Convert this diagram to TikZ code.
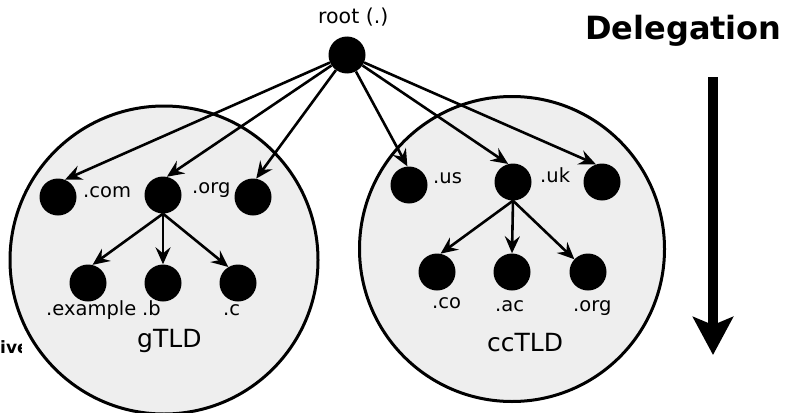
\documentclass[tikz,border=0pt]{standalone}
\usepackage{fontspec}
\setmainfont{DejaVu Sans}
\usetikzlibrary{arrows.meta}
\begin{document}
\begin{tikzpicture}[x=1pt,y=-1pt,
  dot/.style={circle,fill=black,minimum size=37pt,inner sep=0pt},
  zone/.style={circle,draw=black,line width=3pt,fill=zonegray,minimum size=308pt,inner sep=0pt},
  arr/.style={line width=2.6pt,-{Stealth[length=17pt,width=15pt,inset=6pt]}},
  lbl/.style={anchor=base west,inner sep=0pt,font=\fontsize{19.5}{21}\selectfont},
  big/.style={anchor=base west,inner sep=0pt,font=\fontsize{25}{27}\selectfont}]
\definecolor{zonegray}{HTML}{EEEEEE}
\useasboundingbox (0,0) rectangle (786,412);
% clipped text fragment at the left
\begin{scope}
  \clip (0,330) rectangle (21,362);
  \node[anchor=base west,inner sep=0pt,font=\bfseries\fontsize{17}{19}\selectfont] (frag) at (0,353) {ive};
\end{scope}
% zones
\node[zone] (gz) at (164,260) {};
\node[zone,minimum size=305pt] (cz) at (512,249) {};
% dots
\node[dot] (root) at (347,55) {};
\node[dot] (com) at (58,197) {};
\node[dot] (gmid) at (163,195) {};
\node[dot] (gorg) at (253,197) {};
\node[dot] (ex) at (88,283) {};
\node[dot] (b) at (163,283) {};
\node[dot] (c) at (238,283) {};
\node[dot] (us) at (409,185) {};
\node[dot] (uk) at (513,182) {};
\node[dot] (ukr) at (602,182) {};
\node[dot] (co) at (437,272) {};
\node[dot] (ac) at (512,272) {};
\node[dot] (org) at (588,272) {};
% connectors
\draw[arr] (root) -- (com.68);
\draw[arr] (root) -- (gmid.78);
\draw[arr] (root) -- (gorg.80);
\draw[arr] (root) -- (us.95);
\draw[arr] (root) -- (uk.105);
\draw[arr] (root) -- (ukr.109);
\draw[arr] (gmid.south) -- (ex.76);
\draw[arr] (gmid.south) -- (b.north);
\draw[arr] (gmid.south) -- (c.121);
\draw[arr] (uk.south) -- (co.79);
\draw[arr] (uk.south) -- (ac.north);
\draw[arr] (uk.south) -- (org.137);
% labels
\node[anchor=base west,inner sep=0pt,font=\fontsize{20.5}{22}\selectfont] (lroot) at (318,24) {root (.)};
\node[lbl] (lcom) at (83,197) {.com};
\node[lbl] (lgorg) at (192,193) {.org};
\node[lbl] (lex) at (46,315) {.example};
\node[lbl] (lb) at (142,315) {.b};
\node[lbl] (lc) at (223,315) {.c};
\node[big] (lg) at (137,347) {gTLD};
\node[lbl] (lus) at (433,183) {.us};
\node[lbl] (luk) at (540,182) {.uk};
\node[lbl] (lco) at (432,308) {.co};
\node[lbl] (lac) at (495,311) {.ac};
\node[lbl] (lorg) at (573,311) {.org};
\node[big] (lcc) at (487,351) {ccTLD};
\node[anchor=base west,inner sep=0pt,font=\bfseries\fontsize{32}{34}\selectfont] (deleg) at (585,40) {Delegation};
% delegation arrow
\coordinate (dtop) at (713,77);
\coordinate (dbot) at (713,355);
\draw[line width=10pt,-{Stealth[length=38pt,width=40pt,inset=8pt]}] (dtop) -- (dbot);
\end{tikzpicture}
\end{document}
